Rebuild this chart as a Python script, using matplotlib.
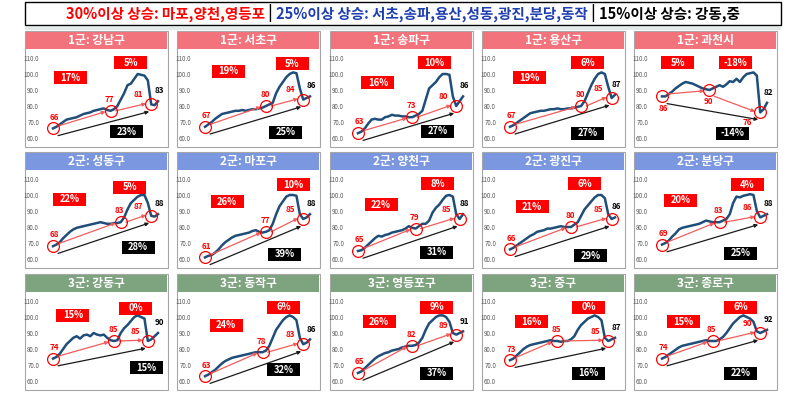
import matplotlib
matplotlib.use('Agg')
import matplotlib.pyplot as plt
from matplotlib.patches import Rectangle
from matplotlib.offsetbox import TextArea, HPacker, AnnotationBbox

plt.rcParams['font.family'] = ['Noto Sans CJK KR', 'DejaVu Sans']

# ---- data ----
title_parts = ['30%이상 상승: 마포,양천,영등포', ' | ', '25%이상 상승: 서초,송파,용산,성동,광진,분당,동작', ' | ', '15%이상 상승: 강동,중']
title_colors = ['#ff0000', 'black', '#1f3fb0', 'black', 'black']

names = ['1군: 강남구', '1군: 서초구', '1군: 송파구', '1군: 용산구', '1군: 과천시',
         '2군: 성동구', '2군: 마포구', '2군: 양천구', '2군: 광진구', '2군: 분당구',
         '3군: 강동구', '3군: 동작구', '3군: 영등포구', '3군: 중구', '3군: 종로구']

gangnam = [66, 67, 68.5, 70, 71.5, 72, 72.5, 73, 74, 75, 75.5, 76, 77, 77.5, 78, 78.5,
           77.5, 77, 78, 80, 84, 88, 93, 94, 97, 100, 99.5, 99, 96, 81, 80.5, 83]
seocho = [67, 68.5, 70, 72, 73.5, 75, 75.5, 76, 76.5, 77, 77, 77.5, 77, 77.5, 78, 78,
          78.5, 79, 80, 81, 82, 88, 92, 95, 98, 100, 101, 100.5, 91, 84, 85, 86]
songpa = [63, 64, 66, 69, 71.5, 72, 71.5, 71.5, 73, 73.5, 74.5, 74, 74, 73.5, 73.5, 73,
          73, 74, 75, 77, 84, 91, 93, 95, 98, 100, 100, 99.5, 86, 80, 83, 86]
yongsan = [67, 68, 69.5, 71, 72.5, 74, 75.5, 76, 76.5, 77, 77, 77.5, 78, 78, 78.5, 78,
           78, 78.5, 78.5, 79, 79.5, 80, 83, 88, 93, 97, 100, 101, 100, 92, 85, 87]
gwacheon = [86, 86, 87.5, 89, 91, 92.5, 94, 95, 94.5, 94, 93, 92, 91, 90.5, 90, 91,
            92, 93, 92, 93.5, 95.5, 95, 97, 95, 98, 100, 100.5, 101, 99, 76, 78, 82]
seongdong = [68, 69, 70.5, 73, 75, 77, 78.5, 79.5, 80, 80.5, 81, 81.5, 82, 82.5, 83, 82.5,
             82, 82, 82.5, 82.5, 83, 86, 91, 95, 97, 99, 100, 100, 95, 87, 86.5, 88]
mapo = [61, 62, 62.5, 64, 66, 68.5, 70.5, 72, 73.5, 74.5, 75, 75.5, 76, 76.5, 77.5, 78,
        77, 76.5, 77, 78, 82, 88, 93, 96, 99, 100, 100, 99.5, 88, 85, 86, 88]
yangcheon = [65, 65.5, 67, 69, 71, 73, 74.5, 74, 75, 75.5, 76.5, 77, 77.5, 78, 79, 80.5,
             79.5, 79, 80.5, 82, 82, 84, 89, 92, 94, 97, 99.5, 100, 99, 88, 85, 88]
gwangjin = [66, 67, 68.5, 70, 71.5, 73, 74.5, 75.5, 77, 77.5, 78, 79, 79, 79.5, 80, 80.5,
            80, 80, 80, 81.5, 83, 87, 91, 93.5, 96, 98.5, 100, 100, 98, 88, 85, 86]
bundang = [69, 70, 71.5, 74, 76, 78.5, 79.5, 80, 80.5, 81, 81.5, 82, 83, 84, 83.5, 83,
           83, 83, 84, 85, 88, 95, 99, 98.5, 99.5, 100, 100.5, 100, 90, 86, 87, 88]
gangdong = [74, 75, 77, 80, 83, 85, 87, 88, 86.5, 88.5, 89, 88, 90, 89, 88.5, 89,
            87, 85.5, 85, 85.5, 90, 93, 95, 97.5, 100, 101, 100, 99, 85, 86, 88, 90]
dongjak = [63, 64, 65.5, 67, 69, 71, 72.5, 73.5, 74.5, 75, 75.5, 76, 76.5, 77, 77.5, 78,
           78, 78, 79, 82, 87, 92, 95, 98, 100, 101, 100, 98, 87, 83, 84, 86]
yeongdeungpo = [65, 66, 68, 70, 72, 74, 75.5, 76.5, 77.5, 78, 79, 79.5, 80, 81, 81.5, 82,
                82, 82.5, 84, 87, 92, 96, 98, 100, 101, 101, 100, 97, 90, 89, 90, 91]
junggu = [73, 74, 76, 78, 80, 81.5, 82.5, 83, 83.5, 84, 84.5, 85, 85.5, 85, 85, 84.5,
          85, 85, 86, 88, 92, 95, 97, 99, 100, 101, 100, 98, 87, 85, 86, 87]
jongno = [74, 75, 76.5, 78, 79.5, 81, 82, 82.5, 83, 83.5, 84, 84.5, 85, 85.5, 85, 85,
          85, 86, 87.5, 90, 93, 96, 98, 100, 101, 100, 99, 97, 91, 90, 91, 92]

series = [gangnam, seocho, songpa, yongsan, gwacheon,
          seongdong, mapo, yangcheon, gwangjin, bundang,
          gangdong, dongjak, yeongdeungpo, junggu, jongno]

# circled points: start, middle, recent low, and the latest value
point_labels = [[66, 77, 81, 83], [67, 80, 84, 86], [63, 73, 80, 86], [67, 80, 85, 87], [86, 90, 76, 82],
                [68, 83, 87, 88], [61, 77, 85, 88], [65, 79, 85, 88], [66, 80, 85, 86], [69, 83, 86, 88],
                [74, 85, 85, 90], [63, 78, 83, 86], [65, 82, 89, 91], [73, 85, 85, 87], [74, 85, 90, 92]]
mid_idx = [17, 18, 16, 21, 14, 20, 18, 17, 18, 17, 18, 17, 16, 14, 15]
low_idx = [29, 29, 29, 30, 29, 29, 29, 30, 30, 29, 28, 29, 29, 29, 29]

first_pct = ['17%', '19%', '16%', '19%', '5%', '22%', '26%', '22%', '21%', '20%', '15%', '24%', '26%', '16%', '15%']
second_pct = ['5%', '5%', '10%', '6%', '-18%', '5%', '10%', '8%', '6%', '4%', '0%', '6%', '9%', '0%', '6%']
total_pct = ['23%', '25%', '27%', '27%', '-14%', '28%', '39%', '31%', '29%', '25%', '15%', '32%', '37%', '16%', '22%']

# ---- layout ----
box_pos = [[(0.17, 97.5), (0.74, 107), (0.70, 64)],
           [(0.22, 101.8), (0.83, 106.3), (0.77, 63.7)],
           [(0.19, 94.4), (0.73, 106.9), (0.76, 64.2)],
           [(0.185, 97.5), (0.74, 107), (0.74, 63)],
           [(0.15, 107), (0.70, 107), (0.67, 63)],
           [(0.16, 97.2), (0.73, 104.8), (0.81, 67.2)],
           [(0.21, 95.7), (0.84, 106.5), (0.76, 63)],
           [(0.22, 94), (0.76, 106.9), (0.75, 64.2)],
           [(0.21, 92.5), (0.71, 106.9), (0.77, 62)],
           [(0.18, 96.8), (0.81, 106.5), (0.75, 63.5)],
           [(0.19, 101.2), (0.79, 105.4), (0.89, 68.4)],
           [(0.20, 95), (0.75, 106), (0.75, 67)],
           [(0.20, 97), (0.75, 106), (0.75, 65)],
           [(0.20, 97), (0.75, 106), (0.75, 65)],
           [(0.20, 97), (0.75, 106), (0.75, 65)]]
labels_below = [False, False, False, False, True] + [False] * 10

W, H = 808, 393
col_left = [25, 177, 330, 482, 634]
row_top = [31, 152, 274]
PW, PH = 143, 116
head_colors = ['#f2737b', '#7a97df', '#7ea37f']
line_color = '#1f4e79'
red = '#ff0000'
arrow_red = '#f25c5c'


def fx(px):
    return px / W


def fy(py):
    return 1 - py / H


fig = plt.figure(figsize=(W / 100, H / 100), dpi=100)

# title box
fig.add_artist(Rectangle((fx(25), fy(25)), (781 - 25) / W, 23 / H, transform=fig.transFigure,
                         fill=False, ec='black', lw=1))
fig.add_artist(Rectangle((fx(25), fy(30)), (781 - 25) / W, 3 / H, transform=fig.transFigure,
                         fc='#e3e8e8', ec='none', zorder=-10))
parts = [TextArea(t, textprops=dict(color=c, fontsize=10.5, fontweight='bold'))
         for t, c in zip(title_parts, title_colors)]
pack = HPacker(children=parts, align='baseline', pad=0, sep=0)
fig.add_artist(AnnotationBbox(pack, ((fx(25) + fx(781)) / 2, fy(13.5)), xycoords='figure fraction',
                              frameon=False, box_alignment=(0.5, 0.5)))

n = len(gangnam)
dxp = (n - 1) / 105.0   # data x per pixel
dyp = 50 / 80.0         # data y per pixel

for k in range(15):
    r, c = divmod(k, 5)
    L, T = col_left[c], row_top[r]
    fig.add_artist(Rectangle((fx(L), fy(T + PH)), PW / W, PH / H, transform=fig.transFigure,
                             fc='white', ec='#a6a6a6', lw=0.8, zorder=-5))
    fig.add_artist(Rectangle((fx(L + 1), fy(T + 18)), (PW - 2) / W, 17 / H, transform=fig.transFigure,
                             fc=head_colors[r], ec='none', zorder=-4))
    fig.text(fx(L + PW / 2), fy(T + 9.5), names[k], color='white', fontsize=8.5,
             fontweight='bold', ha='center', va='center')

    ax = fig.add_axes([fx(L + 28), fy(T + 107), 105 / W, 80 / H])
    ax.set_facecolor('none')
    for s in ax.spines.values():
        s.set_visible(False)
    ax.set_xlim(0, n - 1)
    ax.set_ylim(60, 110)
    ax.set_xticks([])
    ax.set_yticks(range(60, 111, 10))
    ax.set_yticklabels([f'{v:.1f}' for v in range(60, 111, 10)])
    ax.tick_params(axis='y', length=0, pad=10, labelsize=4.5, labelcolor='#595959')

    ys = series[k]
    ax.plot(range(n), ys, color=line_color, lw=1.8, zorder=2, clip_on=False)

    i1, i2 = mid_idx[k], low_idx[k]
    pts = [(0, ys[0]), (i1, ys[i1]), (i2, ys[i2])]
    for (px_, py_) in pts:
        ax.plot(px_, py_, 'o', ms=8.5, mfc='none', mec=red, mew=0.9, zorder=4, clip_on=False)

    # arrows
    arw = dict(arrowstyle='-|>', lw=0.9, mutation_scale=5, shrinkA=0, shrinkB=0)
    ax.annotate('', xy=(i1 - 1.5, ys[i1] - 0.5), xytext=(1.5, ys[0] + 1.5),
                arrowprops=dict(color=arrow_red, **arw), zorder=3)
    ax.annotate('', xy=(i2 - 1.5, ys[i2] + 0.5), xytext=(i1 + 1.5, ys[i1] - (4 if labels_below[k] else 0)),
                arrowprops=dict(color=arrow_red, **arw), zorder=3)
    ax.annotate('', xy=(i2 - 0.6, ys[i2] - 4.5), xytext=(1.5, ys[0] - 4.5),
                arrowprops=dict(color='#1a1a1a', **arw), zorder=3)

    # point labels
    lab = point_labels[k]
    off = -7.5 if labels_below[k] else 7
    ax.text(0.4, ys[0] + off, str(lab[0]), color=red, fontsize=5.8, fontweight='bold',
            ha='center', va='center', zorder=6)
    ax.text(i1 - 0.3, ys[i1] + off, str(lab[1]), color=red, fontsize=5.8, fontweight='bold',
            ha='center', va='center', zorder=6)
    ax.text(i2 - 3.8, ys[i2] + (-6.5 if labels_below[k] else 6), str(lab[2]), color=red, fontsize=5.8,
            fontweight='bold', ha='center', va='center', zorder=6)
    ax.text(n - 1 + 0.4, ys[-1] + 6.5, str(lab[3]), color='black', fontsize=5.8, fontweight='bold',
            ha='center', va='center', zorder=6)

    # percentage boxes
    for j, (txt, fc) in enumerate([(first_pct[k], red), (second_pct[k], red), (total_pct[k], 'black')]):
        bx, by = box_pos[k][j]
        bx = bx * (n - 1)
        bw, bh = 33 * dxp, 13 * dyp
        ax.add_patch(Rectangle((bx - bw / 2, by - bh / 2), bw, bh, fc=fc, ec='none',
                               zorder=5, clip_on=False))
        ax.text(bx, by, txt, color='white', fontsize=6.8, fontweight='bold',
                ha='center', va='center', zorder=6)

fig.savefig('out.png', dpi=100)
